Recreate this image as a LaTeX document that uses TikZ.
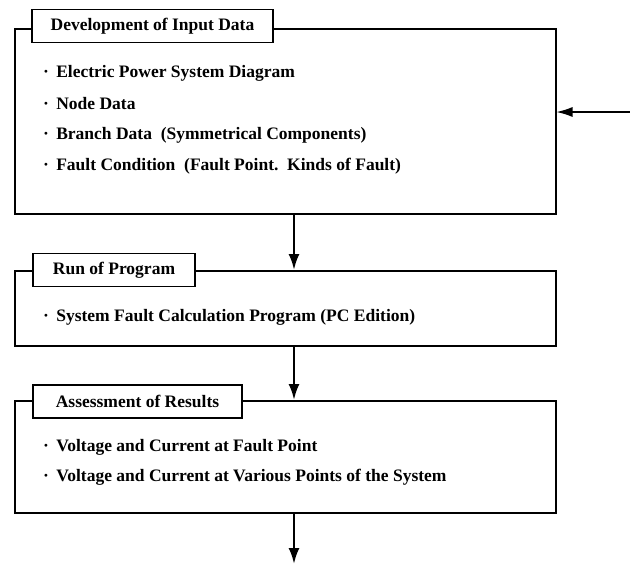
\documentclass[tikz,border=0pt]{standalone}
\usepackage{fontspec}
\setmainfont{Liberation Serif}
\usetikzlibrary{arrows.meta,calc}
\tikzset{
  mainbox/.style={draw, line width=1.5pt, minimum width=541pt, inner sep=0pt, anchor=north west},
  titlebox/.style={draw, fill=white, line width=1.5pt, minimum height=33pt, inner sep=0pt, font=\fontsize{17.5}{19}\selectfont\bfseries},
  item/.style={anchor=west, inner sep=0pt, font=\fontsize{17.5}{19}\selectfont\bfseries},
  flow/.style={line width=2.4pt, -{Latex[length=16pt,width=11pt]}},
  feed/.style={line width=1.3pt, -{Latex[length=16pt,width=10pt]}}
}
\begin{document}
\begin{tikzpicture}[x=1pt,y=-1pt]
\useasboundingbox (0,0) rectangle (630,566);
% main boxes
\node[mainbox, minimum height=185pt] (box1) at (14,28) {};
\node[mainbox, minimum height=75pt] (box2) at (14,270) {};
\node[mainbox, minimum height=112pt] (box3) at (14,400) {};
% title boxes
\node[titlebox, minimum width=241pt] (t1) at (152.5,26) {Development of Input Data};
\node[titlebox, minimum width=162pt] (t2) at (114,270) {Run of Program};
\node[titlebox, minimum width=209pt] (t3) at (137.5,401.5) {Assessment of Results};
% items
\node[item] (i1) at (43,73) {·\, Electric Power System Diagram};
\node[item] (i2) at (43,104) {·\, Node Data};
\node[item] (i3) at (43,135) {·\, Branch Data\enspace(Symmetrical Components)};
\node[item] (i4) at (43,166) {·\, Fault Condition\enspace(Fault Point.\enspace Kinds of Fault)};
\node[item] (i5) at (43,317) {·\, System Fault Calculation Program (PC Edition)};
\node[item] (i6) at (43,447) {·\, Voltage and Current at Fault Point};
\node[item] (i7) at (43,477) {·\, Voltage and Current at Various Points of the System};
% connectors
\coordinate (ax) at (294,0);
\coordinate (src) at (630,112);
\coordinate (endpt) at (294,564);
\draw[flow] (box1.south -| ax) -- (box2.north -| ax);
\draw[flow] (box2.south -| ax) -- (box3.north -| ax);
\draw[flow] (box3.south -| ax) -- (endpt);
\draw[feed] (src) -- (src -| box1.east);
\end{tikzpicture}
\end{document}
